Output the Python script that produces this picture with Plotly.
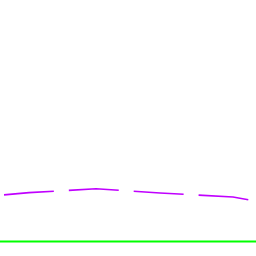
import plotly.graph_objects as go

x_vals = [4, 29, 96, 160, 233, 250]
purple_vals = [18.2, 19.1, 20.6, 18.95, 17.4, 16.2]
base_x = [0, 256]
base_vals = [0, 0]

fig = go.Figure()
fig.add_trace(go.Scatter(x=base_x, y=base_vals, mode="lines",
                         line=dict(color="#00ff00", width=2), hoverinfo="skip"))
fig.add_trace(go.Scatter(x=x_vals, y=purple_vals, mode="lines",
                         line=dict(color="#c000ff", width=1.6, dash="50px,15px")))
fig.update_layout(width=256, height=256, margin=dict(l=0, r=0, t=0, b=0),
                  paper_bgcolor="white", plot_bgcolor="white", showlegend=False,
                  xaxis=dict(range=[0, 256], visible=False, fixedrange=True),
                  yaxis=dict(range=[-5.66, 94.34], visible=False, fixedrange=True))
fig.write_html("out.html", config={"displayModeBar": False})
